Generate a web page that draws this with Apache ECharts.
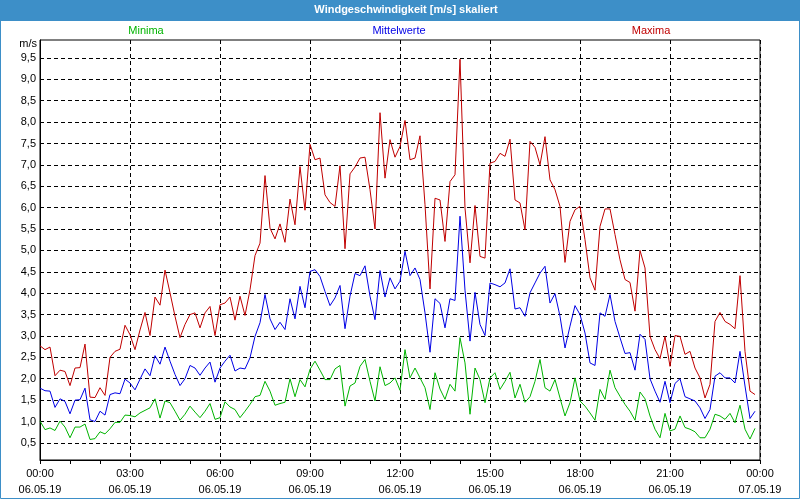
<!DOCTYPE html>
<html><head><meta charset="utf-8">
<script src="https://cdn.jsdelivr.net/npm/echarts@6/dist/echarts.min.js"></script>
<style>html,body{margin:0;padding:0;background:#fff}#c{width:800px;height:500px}</style>
</head><body><div id="c"></div>
<script>
const chartTitle = 'Windgeschwindigkeit [m/s] skaliert';
const seriesNames = ['Minima', 'Mittelwerte', 'Maxima'];
const unitLabel = 'm/s';
const stepMinutes = 10;
const xTickLabels = ['00:00\n06.05.19','03:00\n06.05.19','06:00\n06.05.19','09:00\n06.05.19','12:00\n06.05.19','15:00\n06.05.19','18:00\n06.05.19','21:00\n06.05.19','00:00\n07.05.19'];
const yTickValues = [0.5,1,1.5,2,2.5,3,3.5,4,4.5,5,5.5,6,6.5,7,7.5,8,8.5,9,9.5];

const maxima = [2.77,2.68,2.74,2.07,2.20,2.17,1.84,2.25,2.26,2.81,1.57,1.56,1.79,1.61,2.50,2.64,2.69,3.25,3.03,2.68,3.14,3.55,3.01,3.91,3.72,
4.54,4.01,3.46,2.96,3.27,3.50,3.54,3.19,3.54,3.69,3.01,3.73,3.77,3.91,3.37,3.93,3.48,4.08,4.88,5.17,6.75,5.52,5.27,5.62,
5.19,6.20,5.60,6.96,5.94,7.48,7.12,7.16,6.30,6.12,6.03,6.98,5.04,6.79,6.95,7.16,7.18,6.42,5.50,8.22,6.69,7.59,7.18,7.43,
8.04,7.12,7.16,7.68,6.07,4.10,6.22,6.18,5.21,6.61,6.77,9.47,5.99,4.71,6.05,4.86,4.82,7.04,7.08,7.27,7.20,7.60,6.18,6.11,
5.48,7.55,7.41,7.00,7.66,6.65,6.42,6.03,4.72,5.68,5.95,6.03,5.25,4.36,4.07,5.56,5.97,5.97,5.37,4.78,4.32,4.25,3.58,5.00,
4.59,2.99,2.68,2.47,2.99,2.29,3.01,2.99,2.57,2.64,2.25,2.02,1.55,1.87,3.34,3.55,3.34,3.27,3.17,4.41,2.64,1.71,1.63];

const mittelwerte = [1.78,1.72,1.71,1.33,1.53,1.47,1.18,1.50,1.51,1.78,1.04,1.00,1.24,1.15,1.63,1.67,1.65,1.99,1.90,1.74,1.99,2.23,2.07,2.54,2.34,
2.74,2.41,2.10,1.84,2.00,2.31,2.25,2.08,2.25,2.39,1.92,2.25,2.41,2.55,2.18,2.25,2.23,2.49,2.99,3.31,3.97,3.40,3.15,3.32,
3.15,3.87,3.40,4.16,3.66,4.51,4.55,4.39,4.04,3.71,3.89,4.18,3.17,3.93,4.46,4.41,4.64,3.93,3.38,4.53,3.91,4.36,4.10,4.28,
4.98,4.41,4.59,4.32,3.54,2.62,3.87,3.76,3.19,3.87,3.83,5.80,4.07,2.88,4.02,3.27,3.01,4.24,4.20,4.15,4.24,4.57,3.63,3.66,
3.46,4.01,4.24,4.47,4.63,3.77,3.99,3.46,2.72,3.23,3.71,3.50,3.07,2.37,2.31,3.54,3.46,3.97,3.34,2.96,2.59,2.61,2.20,3.04,
2.92,2.00,1.71,1.45,1.94,1.44,1.89,2.00,1.58,1.53,1.48,1.32,1.07,1.28,2.06,2.14,2.02,2.02,1.90,2.64,1.83,1.07,1.24];

const minima = [1.01,0.81,0.85,0.79,1.01,0.87,0.62,0.87,0.87,0.94,0.58,0.60,0.76,0.71,0.83,0.98,0.98,1.15,1.14,1.11,1.20,1.26,1.32,1.53,1.08,
1.48,1.44,1.24,1.03,1.17,1.36,1.22,1.09,1.24,1.42,1.05,1.09,1.46,1.34,1.28,1.09,1.24,1.40,1.58,1.61,1.94,1.71,1.38,1.42,
1.45,2.00,1.58,1.98,1.81,2.22,2.41,2.20,1.98,1.98,2.23,2.31,1.36,1.83,1.90,2.29,2.45,1.94,1.48,2.28,1.84,1.90,2.02,1.73,
2.68,2.02,2.25,2.02,1.79,1.28,2.14,1.76,1.52,1.87,1.71,2.96,2.37,1.17,2.25,1.98,1.44,2.02,2.14,1.75,1.94,2.15,1.55,1.87,
1.45,1.58,1.94,2.45,1.79,1.71,1.98,1.55,1.13,1.44,2.02,1.48,1.36,1.20,1.03,1.75,1.52,2.20,1.79,1.59,1.40,1.24,1.03,1.69,
1.53,1.13,0.82,0.62,1.19,0.78,0.82,1.13,0.86,0.82,0.76,0.62,0.62,0.82,1.17,1.13,1.05,1.19,0.97,1.38,0.82,0.59,0.84];

const colors = { min: '#00b400', mid: '#0000e6', max: '#c00000', bar: '#3d8fc8' };
const FONT = "'Liberation Sans', Arial, sans-serif";

function pairs(arr) { return arr.map((v, i) => [i * stepMinutes, v]); }

const chart = echarts.init(document.getElementById('c'), null, { renderer: 'canvas' });
const dash = { color: '#000', width: 1, type: [4, 3] };
chart.setOption({
  animation: false,
  backgroundColor: '#fff',
  textStyle: { fontFamily: FONT },
  grid: { left: 40, right: 40, top: 40, bottom: 40, show: true, borderColor: '#000', borderWidth: 1, containLabel: false },
  xAxis: {
    type: 'value', min: 0, max: 1440, interval: 180,
    axisLine: { show: true, lineStyle: { color: '#000', width: 1 } },
    axisTick: { show: true, length: 4, lineStyle: { color: '#000' } },
    minorTick: { show: true, splitNumber: 3, length: 4, lineStyle: { color: '#000' } },
    splitLine: { show: true, lineStyle: dash },
    axisLabel: { color: '#000', fontSize: 11, fontFamily: FONT, lineHeight: 16, margin: 6,
      formatter: v => xTickLabels[Math.round(v / 180)] || '' }
  },
  yAxis: {
    type: 'value', min: 0.1, max: 9.92,
    axisLine: { show: true, lineStyle: { color: '#000', width: 1 } },
    axisTick: { show: false, customValues: yTickValues },
    splitLine: { show: true, lineStyle: dash },
    axisLabel: { color: '#000', fontSize: 11, fontFamily: FONT, margin: 4, customValues: yTickValues,
      formatter: v => v.toFixed(1).replace('.', ',') }
  },
  graphic: [
    { type: 'rect', shape: { x: 0, y: 0, width: 800, height: 21 }, style: { fill: colors.bar }, silent: true },
    { type: 'rect', shape: { x: 0.5, y: 0.5, width: 799, height: 498 }, style: { fill: null, stroke: colors.bar, lineWidth: 1 }, silent: true },
    { type: 'text', x: 406, y: 10, style: { text: chartTitle, fill: '#fff', font: "bold 11px " + FONT, textAlign: 'center', textVerticalAlign: 'middle' } },
    { type: 'text', x: 146, y: 31, style: { text: seriesNames[0], fill: colors.min, font: "11px " + FONT, textAlign: 'center', textVerticalAlign: 'middle' } },
    { type: 'text', x: 399, y: 31, style: { text: seriesNames[1], fill: colors.mid, font: "11px " + FONT, textAlign: 'center', textVerticalAlign: 'middle' } },
    { type: 'text', x: 651, y: 31, style: { text: seriesNames[2], fill: colors.max, font: "11px " + FONT, textAlign: 'center', textVerticalAlign: 'middle' } },
    { type: 'text', x: 37, y: 44, style: { text: unitLabel, fill: '#000', font: "11px " + FONT, textAlign: 'right', textVerticalAlign: 'middle' } }
  ],
  series: [
    { name: seriesNames[0], type: 'line', data: pairs(minima), showSymbol: false, lineStyle: { width: 1, color: colors.min }, itemStyle: { color: colors.min } },
    { name: seriesNames[1], type: 'line', data: pairs(mittelwerte), showSymbol: false, lineStyle: { width: 1, color: colors.mid }, itemStyle: { color: colors.mid } },
    { name: seriesNames[2], type: 'line', data: pairs(maxima), showSymbol: false, lineStyle: { width: 1, color: colors.max }, itemStyle: { color: colors.max } }
  ]
});
</script></body></html>
